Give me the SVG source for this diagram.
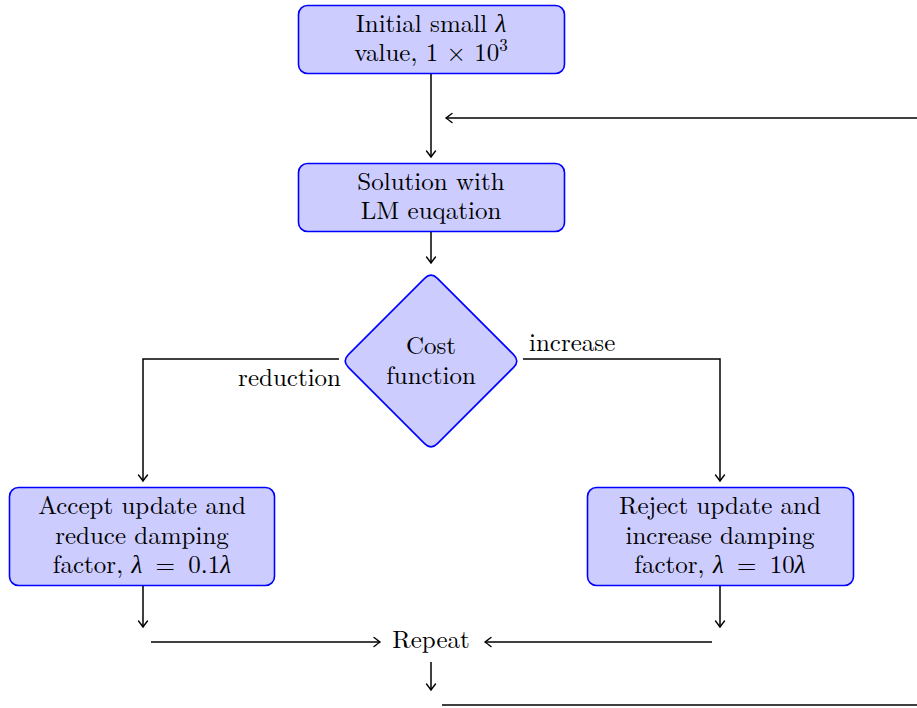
<svg xmlns="http://www.w3.org/2000/svg" width="917" height="708" viewBox="0 0 917 708">
  <style>
    .box { fill: #ccccff; stroke: #0000ff; stroke-width: 1.6; }
    .lbl { font-family: "Latin Modern Roman", serif; font-size: 25px; fill: #000; text-anchor: middle; }
    .edge { fill: none; stroke: #000; stroke-width: 1.5; }
    .arr { marker-end: url(#tip); }
    .m { font-style: italic; }
  </style>
  <defs>
    <marker id="tip" viewBox="-8 -6 10 12" refX="0" refY="0" markerWidth="10" markerHeight="12" markerUnits="userSpaceOnUse" orient="auto" overflow="visible">
      <path d="M-6,-4.5 Q-1.5,-1 0,0 Q-1.5,1 -6,4.5" fill="none" stroke="#000" stroke-width="1.4" stroke-linecap="round"/>
    </marker>
  </defs>

  <g id="init">
    <rect class="box" x="298.5" y="5.5" width="266" height="68" rx="9"/>
    <text class="lbl" x="431" y="32">Initial small <tspan class="m">λ</tspan></text>
    <text class="lbl" x="431" y="61">value, 1 × 10<tspan font-size="17" dy="-10">3</tspan></text>
  </g>

  <g id="solve">
    <rect class="box" x="298.5" y="163.5" width="266" height="68" rx="9"/>
    <text class="lbl" x="431" y="190">Solution with</text>
    <text class="lbl" x="431" y="219">LM euqation</text>
  </g>

  <g id="cost">
    <path class="box" d="M424.6,278.4 Q431,272 437.4,278.4 L513.6,354.6 Q520,361 513.6,367.4 L437.4,443.6 Q431,450 424.6,443.6 L348.4,367.4 Q342,361 348.4,354.6 Z"/>
    <text class="lbl" x="431" y="354">Cost</text>
    <text class="lbl" x="431" y="384">function</text>
  </g>

  <g id="accept">
    <rect class="box" x="9.5" y="487.5" width="265" height="98" rx="9"/>
    <text class="lbl" x="142" y="514">Accept update and</text>
    <text class="lbl" x="142" y="544">reduce damping</text>
    <text class="lbl" x="142" y="573">factor, <tspan class="m">λ</tspan> <tspan dx="5">=</tspan> <tspan dx="5">0.1</tspan><tspan class="m">λ</tspan></text>
  </g>

  <g id="reject">
    <rect class="box" x="587.5" y="487.5" width="266" height="98" rx="9"/>
    <text class="lbl" x="720" y="514">Reject update and</text>
    <text class="lbl" x="720" y="544">increase damping</text>
    <text class="lbl" x="720" y="573">factor, <tspan class="m">λ</tspan> <tspan dx="5">=</tspan> <tspan dx="5">10</tspan><tspan class="m">λ</tspan></text>
  </g>

  <g id="repeat">
    <text class="lbl" x="431" y="648">Repeat</text>
  </g>

  <g id="connectors">
    <line class="edge arr" x1="431" y1="74" x2="431" y2="157"/>
    <line class="edge arr" x1="917" y1="118" x2="446" y2="118"/>
    <line class="edge arr" x1="431" y1="232" x2="431" y2="263"/>
    <polyline class="edge arr" points="339,359 143,359 143,481"/>
    <polyline class="edge arr" points="523,359 720,359 720,481"/>
    <line class="edge arr" x1="143" y1="586" x2="143" y2="627"/>
    <line class="edge arr" x1="720" y1="586" x2="720" y2="627"/>
    <line class="edge arr" x1="151" y1="642" x2="380" y2="642"/>
    <line class="edge arr" x1="712" y1="642" x2="485" y2="642"/>
    <line class="edge arr" x1="431" y1="662" x2="431" y2="690"/>
    <line class="edge" x1="442" y1="705" x2="917" y2="705"/>
    <text class="lbl" x="341" y="386" style="text-anchor:end">reduction</text>
    <text class="lbl" x="529" y="351" style="text-anchor:start">increase</text>
  </g>
</svg>
